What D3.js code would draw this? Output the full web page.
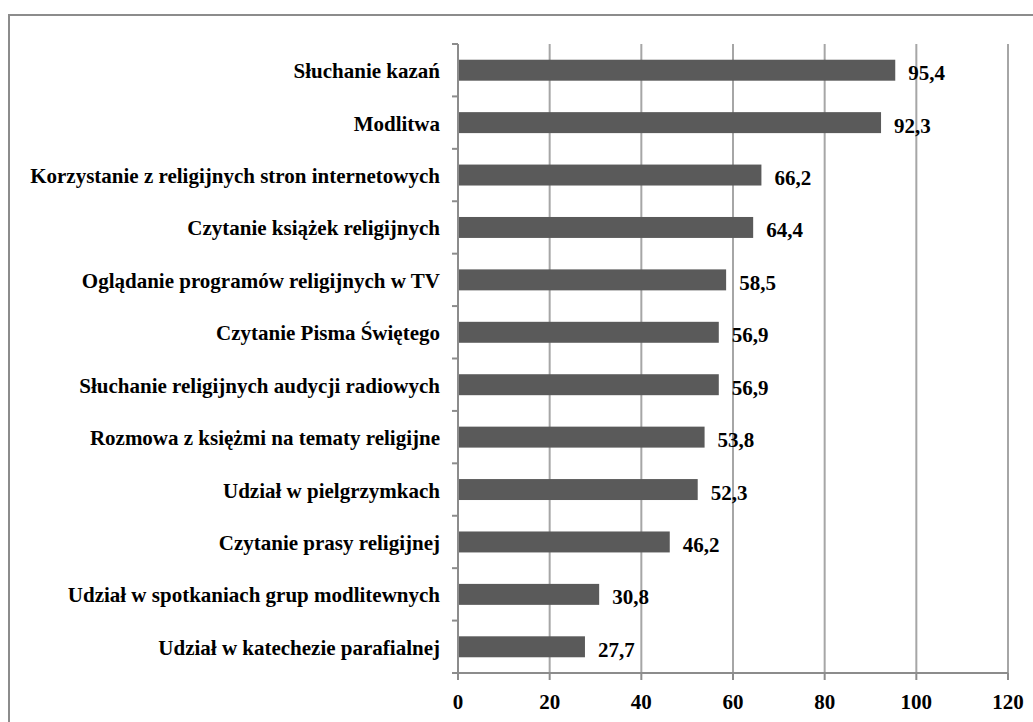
<!DOCTYPE html>
<meta charset="utf-8">
<script src="https://d3js.org/d3.v7.min.js"></script>
<style>
  body { margin: 0; background: #fff; }
  text { font-family: "Liberation Serif", "Times New Roman", serif; font-weight: bold; fill: #000; }
</style>
<div id="chart"></div>
<script>
// categories top to bottom and their values (%)
const categories = [
    "Słuchanie kazań",
    "Modlitwa",
    "Korzystanie z religijnych stron internetowych",
    "Czytanie książek religijnych ",
    "Oglądanie programów religijnych  w TV",
    "Czytanie Pisma Świętego",
    "Słuchanie religijnych audycji radiowych ",
    "Rozmowa z księżmi na tematy religijne",
    "Udział w pielgrzymkach ",
    "Czytanie prasy religijnej ",
    "Udział w spotkaniach grup modlitewnych",
    "Udział w katechezie parafialnej "
];
const values = [95.4, 92.3, 66.2, 64.4, 58.5, 56.9, 56.9, 53.8, 52.3, 46.2, 30.8, 27.7];
const labels = ["95,4", "92,3", "66,2", "64,4", "58,5", "56,9", "56,9", "53,8", "52,3", "46,2", "30,8", "27,7"];
const xTicks = [0, 20, 40, 60, 80, 100, 120];

const W = 1033, H = 722;
const m = {left: 458, right: 1008, top: 44, bottom: 673};

const svg = d3.select("#chart").append("svg")
    .attr("width", W).attr("height", H);

// outer frame
svg.append("rect")
    .attr("x", 9).attr("y", 15)
    .attr("width", W + 20).attr("height", H + 20)
    .attr("fill", "none").attr("stroke", "#8c8c8c").attr("stroke-width", 2);

const x = d3.scaleLinear().domain([0, 120]).range([m.left, m.right]);
const y = d3.scaleBand().domain(categories).range([m.top, m.bottom]).paddingInner(0.6).paddingOuter(0.3);

// gridlines
svg.append("g").selectAll("line")
    .data(xTicks.slice(1))
    .join("line")
    .attr("x1", d => x(d)).attr("x2", d => x(d))
    .attr("y1", m.top).attr("y2", m.bottom)
    .attr("stroke", "#a6a6a6").attr("stroke-width", 2);

// bars
svg.append("g").selectAll("rect")
    .data(values)
    .join("rect")
    .attr("x", x(0))
    .attr("y", (d, i) => y(categories[i]))
    .attr("width", d => x(d) - x(0))
    .attr("height", y.bandwidth())
    .attr("fill", "#5a5a5a");

// value labels
svg.append("g").selectAll("text")
    .data(values)
    .join("text")
    .attr("x", d => x(d) + 13)
    .attr("y", (d, i) => y(categories[i]) + y.bandwidth() / 2 + 10)
    .attr("font-size", "21px")
    .text((d, i) => labels[i]);

// y axis with ticks between categories
const yAxis = svg.append("g");
yAxis.append("line")
    .attr("x1", m.left).attr("x2", m.left).attr("y1", m.top).attr("y2", m.bottom)
    .attr("stroke", "#8c8c8c").attr("stroke-width", 2);
const step = (m.bottom - m.top) / categories.length;
yAxis.selectAll("line.tk")
    .data(d3.range(categories.length + 1))
    .join("line").attr("class", "tk")
    .attr("x1", m.left - 6).attr("x2", m.left)
    .attr("y1", i => m.top + i * step).attr("y2", i => m.top + i * step)
    .attr("stroke", "#8c8c8c").attr("stroke-width", 2);
yAxis.selectAll("text")
    .data(categories)
    .join("text")
    .attr("x", m.left - 18)
    .attr("y", d => y(d) + y.bandwidth() / 2 + 8)
    .attr("text-anchor", "end")
    .attr("font-size", "21px")
    .text(d => d.trimEnd());

// x axis
const xAxis = svg.append("g");
xAxis.append("line")
    .attr("x1", m.left).attr("x2", m.right).attr("y1", m.bottom).attr("y2", m.bottom)
    .attr("stroke", "#8c8c8c").attr("stroke-width", 2);
xAxis.selectAll("line.tk")
    .data(xTicks)
    .join("line").attr("class", "tk")
    .attr("x1", d => x(d)).attr("x2", d => x(d))
    .attr("y1", m.bottom).attr("y2", m.bottom + 7)
    .attr("stroke", "#8c8c8c").attr("stroke-width", 2);
xAxis.selectAll("text")
    .data(xTicks)
    .join("text")
    .attr("x", d => x(d))
    .attr("y", m.bottom + 36)
    .attr("text-anchor", "middle")
    .attr("font-size", "21px")
    .text(d => d);
</script>
